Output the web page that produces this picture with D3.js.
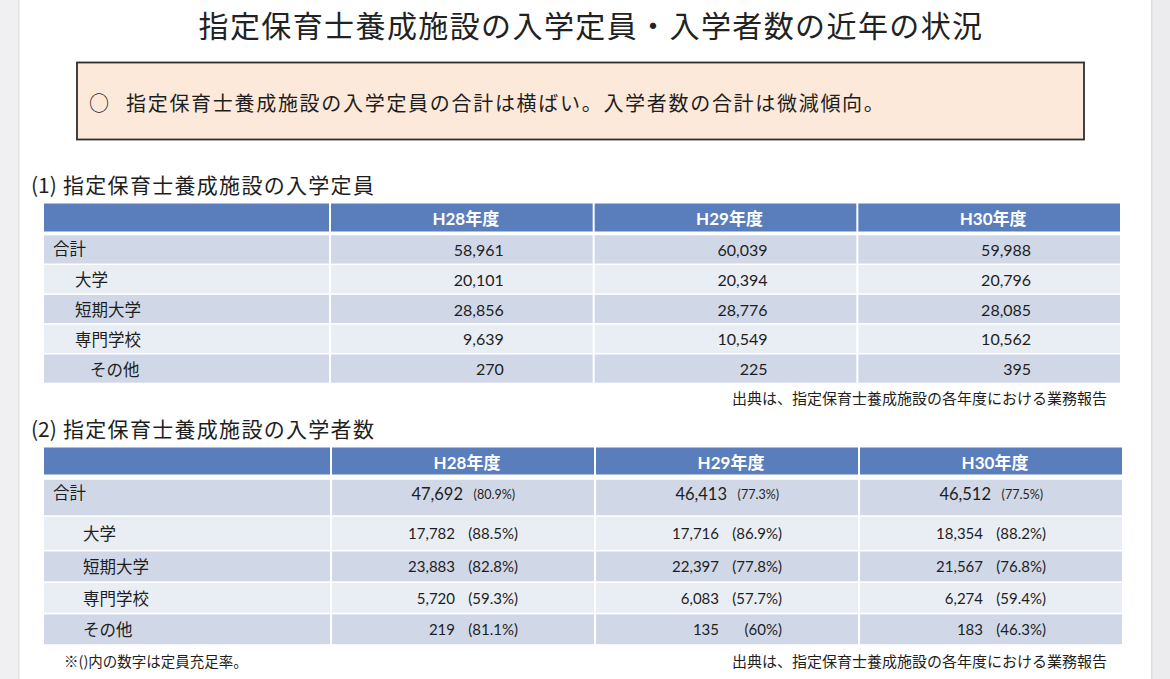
<!DOCTYPE html>
<html>
<head>
<meta charset="utf-8">
<script src="https://cdn.jsdelivr.net/npm/d3@7"></script>
<style>
  html, body { margin: 0; padding: 0; background: #fff; }
  svg { display: block; }
  .jp { font-family: "Noto Sans CJK JP", sans-serif; }
  .num { font-family: Lato, "Noto Sans CJK JP", sans-serif; }
</style>
</head>
<body>
<div id="chart"></div>
<script>
// table data
const years = ['H28年度', 'H29年度', 'H30年度'];
const categories = ['合計', '大学', '短期大学', '専門学校', 'その他'];

// (1) 入学定員
const capH28 = [58961, 20101, 28856, 9639, 270];
const capH29 = [60039, 20394, 28776, 10549, 225];
const capH30 = [59988, 20796, 28085, 10562, 395];

// (2) 入学者数 と 定員充足率(%)
const entH28 = [47692, 17782, 23883, 5720, 219];
const entH29 = [46413, 17716, 22397, 6083, 135];
const entH30 = [46512, 18354, 21567, 6274, 183];
const rateH28 = [80.9, 88.5, 82.8, 59.3, 81.1];
const rateH29 = [77.3, 86.9, 77.8, 57.7, 60];
const rateH30 = [77.5, 88.2, 76.8, 59.4, 46.3];

const title = '指定保育士養成施設の入学定員・入学者数の近年の状況';
const summary = '指定保育士養成施設の入学定員の合計は横ばい。入学者数の合計は微減傾向。';
const heading1 = ['(1)', '指定保育士養成施設の入学定員'];
const heading2 = ['(2)', '指定保育士養成施設の入学者数'];
const sourceNote = '出典は、指定保育士養成施設の各年度における業務報告';
const rateNote = '※()内の数字は定員充足率。';

let width = 1170, height = 679;
let fmt = d3.format(',');

let svg = d3.select('#chart').append('svg')
    .attr('width', width)
    .attr('height', height);

// page edges (slide viewer look)
svg.append('rect').attr('x', 0).attr('y', 0).attr('width', 19).attr('height', height).attr('fill', '#f0f0f2');
svg.append('rect').attr('x', 18).attr('y', 0).attr('width', 1.5).attr('height', height).attr('fill', '#e2e2e6');
svg.append('rect').attr('x', 1151).attr('y', 0).attr('width', 19).attr('height', height).attr('fill', '#ececef');
svg.append('rect').attr('x', 1151).attr('y', 0).attr('width', 1.5).attr('height', height).attr('fill', '#dedee2');

// title
svg.append('text').attr('class', 'jp')
    .attr('x', 591).attr('y', 24)
    .attr('text-anchor', 'middle')
    .attr('dominant-baseline', 'central')
    .attr('font-size', 30)
    .attr('letter-spacing', 1.4)
    .attr('fill', '#222')
    .text(title);

// summary box
svg.append('rect')
    .attr('x', 77).attr('y', 62.5).attr('width', 1007).attr('height', 77)
    .attr('fill', '#fde9da')
    .attr('stroke', '#2e2e2e')
    .attr('stroke-width', 1.8);
svg.append('text').attr('class', 'jp')
    .attr('x', 89).attr('y', 102)
    .attr('dominant-baseline', 'central')
    .attr('font-size', 20)
    .attr('fill', '#1e1e1e')
    .text('○');
svg.append('text').attr('class', 'jp')
    .attr('x', 126).attr('y', 102)
    .attr('dominant-baseline', 'central')
    .attr('font-size', 20)
    .attr('letter-spacing', 1.7)
    .attr('fill', '#1e1e1e')
    .text(summary);

let drawHeading = (parts, yPos) => {
    svg.append('text').attr('class', 'jp')
        .attr('x', 31).attr('y', yPos)
        .attr('dominant-baseline', 'central')
        .attr('font-size', 21)
        .attr('fill', '#1e1e1e')
        .text(parts[0]);
    svg.append('text').attr('class', 'jp')
        .attr('x', 63).attr('y', yPos)
        .attr('dominant-baseline', 'central')
        .attr('font-size', 21)
        .attr('letter-spacing', 1.3)
        .attr('fill', '#1e1e1e')
        .text(parts[1]);
};

let drawTable = (cfg) => {
    let g = svg.append('g');
    let x = d3.scaleBand().domain(years).range([cfg.labelRight, cfg.right]);

    // row positions: cumulative weights mapped by a linear scale
    let cum = [0];
    cfg.weights.forEach((w, i) => cum.push(cum[i] + w));
    let y = d3.scaleLinear().domain([0, cum[cum.length - 1]]).range([cfg.bodyTop, cfg.bottom]);
    let rows = categories.map((c, i) => ({ name: c, i: i, y0: y(cum[i]), y1: y(cum[i + 1]) }));

    // header
    g.append('rect')
        .attr('x', cfg.left).attr('y', cfg.headTop)
        .attr('width', cfg.labelRight - cfg.left - 1).attr('height', cfg.headH)
        .attr('fill', '#5a7dbb');
    g.selectAll('.hcell').data(years).enter().append('rect')
        .attr('x', d => x(d) + 1).attr('y', cfg.headTop)
        .attr('width', x.bandwidth() - 2).attr('height', cfg.headH)
        .attr('fill', '#5a7dbb');
    g.selectAll('.htext').data(years).enter().append('text')
        .attr('class', 'num')
        .attr('x', d => x(d) + x.bandwidth() / 2 + 4)
        .attr('y', cfg.headTop + cfg.headH / 2 + 1)
        .attr('text-anchor', 'middle')
        .attr('dominant-baseline', 'central')
        .attr('font-size', 17)
        .attr('font-weight', 'bold')
        .attr('fill', '#fff')
        .text(d => d);

    // body cells
    rows.forEach(r => {
        let fill = r.i % 2 === 0 ? '#d0d8e8' : '#e9edf4';
        g.append('rect')
            .attr('x', cfg.left).attr('y', r.y0 + 0.8)
            .attr('width', cfg.labelRight - cfg.left - 1).attr('height', r.y1 - r.y0 - 1.6)
            .attr('fill', fill);
        years.forEach(yr => {
            g.append('rect')
                .attr('x', x(yr) + 1).attr('y', r.y0 + 0.8)
                .attr('width', x.bandwidth() - 2).attr('height', r.y1 - r.y0 - 1.6)
                .attr('fill', fill);
        });
        g.append('text').attr('class', 'jp')
            .attr('x', cfg.left + cfg.indent[r.i])
            .attr('y', (r.y0 + r.y1) / 2 + cfg.labelShift[r.i])
            .attr('dominant-baseline', 'central')
            .attr('font-size', 16.5)
            .attr('fill', '#1e1e1e')
            .text(r.name);
    });

    return { x: x, rows: rows, g: g };
};

// (1) table
drawHeading(heading1, 184);

let t1 = drawTable({
    left: 44, labelRight: 330, right: 1121,
    headTop: 203.5, headH: 28,
    bodyTop: 234.5, bottom: 383.5,
    weights: [1, 1, 1, 1, 1],
    indent: [9, 31, 31, 31, 46],
    labelShift: [-1, 0, 0, 0, 0]
});
let cap = [capH28, capH29, capH30];
years.forEach((yr, k) => {
    t1.g.selectAll('.v' + k).data(t1.rows).enter().append('text')
        .attr('class', 'num')
        .attr('x', t1.x(yr) + t1.x.bandwidth() / 2 + 42)
        .attr('y', r => (r.y0 + r.y1) / 2)
        .attr('text-anchor', 'end')
        .attr('dominant-baseline', 'central')
        .attr('font-size', 16)
        .attr('fill', '#1e1e1e')
        .text(r => fmt(cap[k][r.i]));
});

svg.append('text').attr('class', 'jp')
    .attr('x', 1107).attr('y', 397)
    .attr('text-anchor', 'end')
    .attr('dominant-baseline', 'central')
    .attr('font-size', 15)
    .attr('fill', '#1e1e1e')
    .text(sourceNote);

// (2) table
drawHeading(heading2, 428);

let t2 = drawTable({
    left: 44, labelRight: 331, right: 1123,
    headTop: 447.5, headH: 27,
    bodyTop: 479, bottom: 645,
    weights: [1.18, 1.1, 1, 1, 1],
    indent: [9, 39, 39, 39, 39],
    labelShift: [-6, 0, 0, 0, 0]
});
let ent = [entH28, entH29, entH30];
let rate = [rateH28, rateH29, rateH30];
years.forEach((yr, k) => {
    let cx = t2.x(yr) + t2.x.bandwidth() / 2;
    t2.g.selectAll('.n' + k).data(t2.rows).enter().append('text')
        .attr('class', 'num')
        .attr('x', r => r.i === 0 ? cx : cx - 8)
        .attr('y', r => (r.y0 + r.y1) / 2 + (r.i === 0 ? -4 : 0))
        .attr('text-anchor', 'end')
        .attr('dominant-baseline', 'central')
        .attr('font-size', r => r.i === 0 ? 16.5 : 15)
        .attr('fill', '#1e1e1e')
        .text(r => fmt(ent[k][r.i]));
    t2.g.selectAll('.p' + k).data(t2.rows).enter().append('text')
        .attr('class', 'num')
        .attr('x', r => r.i === 0 ? cx + 52 : cx + 55)
        .attr('y', r => (r.y0 + r.y1) / 2 + (r.i === 0 ? -3 : 0))
        .attr('text-anchor', 'end')
        .attr('dominant-baseline', 'central')
        .attr('font-size', r => r.i === 0 ? 12.5 : 15)
        .attr('fill', '#1e1e1e')
        .text(r => '(' + rate[k][r.i] + '%)');
});

svg.append('text').attr('class', 'jp')
    .attr('x', 64).attr('y', 660)
    .attr('dominant-baseline', 'central')
    .attr('font-size', 14.5)
    .attr('fill', '#1e1e1e')
    .text(rateNote);
svg.append('text').attr('class', 'jp')
    .attr('x', 1107).attr('y', 660)
    .attr('text-anchor', 'end')
    .attr('dominant-baseline', 'central')
    .attr('font-size', 15)
    .attr('fill', '#1e1e1e')
    .text(sourceNote);
</script>
</body>
</html>
